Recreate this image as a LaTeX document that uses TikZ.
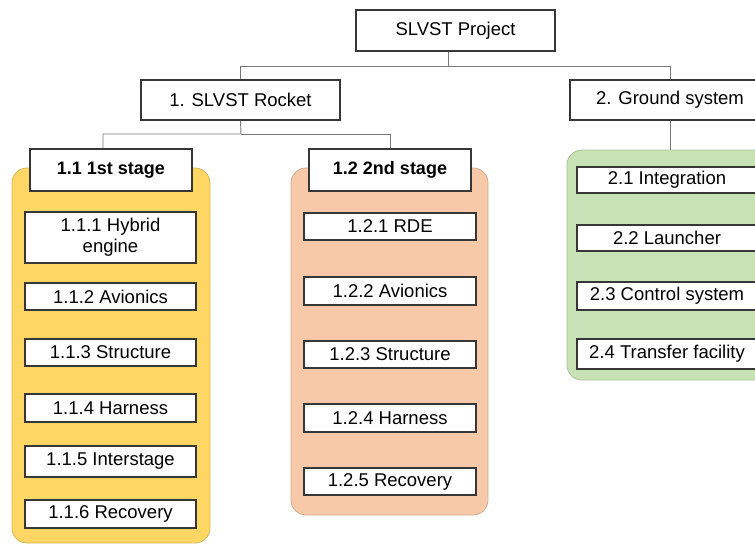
\documentclass[tikz,border=0pt]{standalone}
\usepackage{fontspec}
\setmainfont{Liberation Sans}
\usetikzlibrary{positioning}
\definecolor{boxline}{RGB}{55,55,55}
\definecolor{linkgray}{RGB}{120,120,120}
\definecolor{stageone}{RGB}{253,214,100}
\definecolor{stagetwo}{RGB}{248,201,168}
\definecolor{groundfill}{RGB}{200,226,182}
\tikzstyle{wbsbox} = [draw=boxline, fill=white, line width=1.1pt, align=center, inner sep=0pt, font=\fontsize{18.5}{21}\selectfont]
\tikzstyle{stagebox} = [wbsbox, font=\fontsize{18}{21}\selectfont\bfseries]
\tikzstyle{panel} = [rounded corners=15pt, line width=0.8pt, inner sep=0pt]
\tikzstyle{link} = [draw=linkgray, line width=0.9pt]

\begin{document}
\begin{tikzpicture}[x=1pt, y=-1pt]
  \useasboundingbox (0,0) rectangle (755,546);
  \clip (0,0) rectangle (755,546);

  % coloured panels
  \node[panel, fill=stageone, draw=stageone!85!black, minimum width=198pt, minimum height=375pt] (pan1) at (111,355.5) {};
  \node[panel, fill=stagetwo, draw=stagetwo!85!black, minimum width=197pt, minimum height=347pt] (pan2) at (389.5,341.5) {};
  \node[panel, fill=groundfill, draw=groundfill!85!black, minimum width=206pt, minimum height=230pt] (pan3) at (670,265) {};

  % top levels
  \node[wbsbox, minimum width=199pt, minimum height=41pt] (proj) at (455.5,30.5) {SLVST Project};
  \node[wbsbox, minimum width=199pt, minimum height=40pt] (rocket) at (240.5,100) {1. SLVST Rocket};
  \node[wbsbox, minimum width=200pt, minimum height=40pt] (ground) at (670,100) {2. Ground system};

  \node[stagebox, minimum width=162pt, minimum height=42pt] (st1) at (111,170) {1.1 1st stage};
  \node[stagebox, minimum width=162pt, minimum height=42pt] (st2) at (390,170) {1.2 2nd stage};

  % 1.1 items
  \node[wbsbox, minimum width=171pt, minimum height=51pt] (hyb1) at (110.5,237.5) {1.1.1 Hybrid\\engine};
  \node[wbsbox, minimum width=171pt, minimum height=27pt] (avi1) at (110.5,296.5) {1.1.2 Avionics};
  \node[wbsbox, minimum width=171pt, minimum height=27pt] (str1) at (110.5,352.5) {1.1.3 Structure};
  \node[wbsbox, minimum width=171pt, minimum height=28pt] (har1) at (110.5,408) {1.1.4 Harness};
  \node[wbsbox, minimum width=171pt, minimum height=31pt] (int1) at (110.5,461.5) {1.1.5 Interstage};
  \node[wbsbox, minimum width=171pt, minimum height=28pt] (rec1) at (110.5,514) {1.1.6 Recovery};

  % 1.2 items
  \node[wbsbox, minimum width=172pt, minimum height=27pt] (rde2) at (390,226.5) {1.2.1 RDE};
  \node[wbsbox, minimum width=172pt, minimum height=28pt] (avi2) at (390,291) {1.2.2 Avionics};
  \node[wbsbox, minimum width=172pt, minimum height=27pt] (str2) at (390,354.5) {1.2.3 Structure};
  \node[wbsbox, minimum width=172pt, minimum height=28pt] (har2) at (390,418) {1.2.4 Harness};
  \node[wbsbox, minimum width=172pt, minimum height=27pt] (rec2) at (390,481.5) {1.2.5 Recovery};

  % 2 items
  \node[wbsbox, minimum width=180pt, minimum height=26pt] (intg) at (667,180) {2.1 Integration};
  \node[wbsbox, minimum width=180pt, minimum height=26pt] (lnch) at (667,238) {2.2 Launcher};
  \node[wbsbox, minimum width=180pt, minimum height=28pt] (ctrl) at (667,296) {2.3 Control system};
  \node[wbsbox, minimum width=180pt, minimum height=30pt] (trns) at (667,354) {2.4 Transfer facility};

  % connectors
  \coordinate (projfork) at (448,66);
  \coordinate (rockfork) at (241,134);
  \draw[link] ([xshift=-7.5pt]proj.south) -- (projfork) -| (rocket.north);
  \draw[link] (projfork) -| (ground.north);
  \draw[link] (rocket.south) -- (rockfork) -| ([xshift=-8pt]st1.north);
  \draw[link] (rockfork) -| (st2.north);
  \draw[link] (ground.south) -- (pan3.north -| ground.south);
\end{tikzpicture}
\end{document}
